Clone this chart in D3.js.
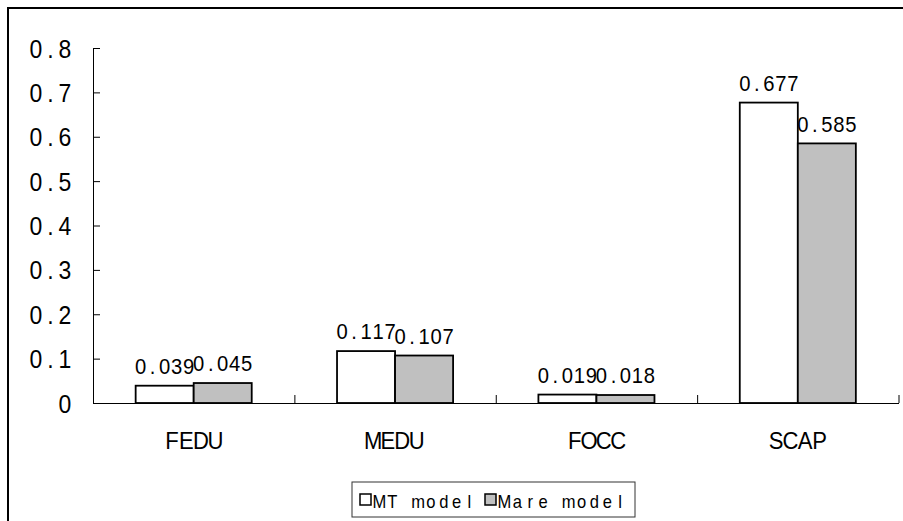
<!DOCTYPE html>
<html>
<head>
<meta charset="utf-8">
<script src="https://cdn.jsdelivr.net/npm/d3@7"></script>
<style>
  body { margin: 0; background: white; }
  text { font-family: "Liberation Sans", Arial, sans-serif; fill: #000; }
</style>
</head>
<body>
<div id="plot"></div>
<script>
// chart data
const categories = ["FEDU", "MEDU", "FOCC", "SCAP"];
const seriesNames = ["MT model", "Mare model"];
const mtValues = [0.039, 0.117, 0.019, 0.677];
const mareValues = [0.045, 0.107, 0.018, 0.585];
const yTickValues = [0, 0.1, 0.2, 0.3, 0.4, 0.5, 0.6, 0.7, 0.8];

const w = 903;
const h = 521;
const colors = ["#ffffff", "#c0c0c0"];
const sx = 0.92; // glyphs are a bit narrow in the original

const svg = d3.select("div#plot")
  .append("svg")
  .attr("width", w)
  .attr("height", h);

svg.append("rect")
  .attr("width", w).attr("height", h)
  .attr("fill", "white");

// outer frame (runs off the right/bottom edge)
svg.append("rect")
  .attr("x", 8).attr("y", 8)
  .attr("width", 1000).attr("height", 1000)
  .attr("fill", "none")
  .attr("stroke", "#000")
  .attr("stroke-width", 2);

const xScale = d3.scaleBand()
  .domain(categories)
  .range([93, 898.5])
  .padding(0);

const xSub = d3.scaleBand()
  .domain(seriesNames)
  .range([0, xScale.bandwidth()])
  .paddingInner(0)
  .paddingOuter(0.735);

const yScale = d3.scaleLinear()
  .domain([0, 0.8])
  .range([403, 48]);

const rows = categories.map((c, i) => ({cat: c, vals: [mtValues[i], mareValues[i]]}));

// fixed-pitch text: every glyph centred in its own cell
function spaced(sel, str, x, y, pitch, align) {
  sel.each(function (d, i) {
    const s = str(d, i);
    const n = s.length;
    let cells;
    if (align === "middle") cells = d3.range(n).map(k => (k - (n - 1) / 2) * pitch);
    else if (align === "end") cells = d3.range(n).map(k => -(n - 1 - k) * pitch);
    else cells = d3.range(n).map(k => k * pitch);
    d3.select(this)
      .text(s)
      .attr("text-anchor", "middle")
      .attr("x", cells.map(c => (c / sx).toFixed(2)).join(" "))
      .attr("y", 0)
      .attr("dy", null)
      .attr("transform", `translate(${x(d, i)},${y(d, i)}) scale(${sx},1)`);
  });
}

// y axis, ticks inside
const yFormat = d => d === 0 ? "0" : d.toFixed(1);
const yAxis = svg.append("g")
  .attr("transform", "translate(93,0)")
  .call(d3.axisLeft(yScale)
    .tickValues(yTickValues)
    .tickSizeInner(-7)
    .tickSizeOuter(0)
    .tickFormat(yFormat));
yAxis.select(".domain").attr("stroke", "#000");
yAxis.selectAll("line").attr("stroke", "#000");
yAxis.selectAll("text")
  .style("font-family", "Liberation Sans")
  .style("font-size", "25px")
  .call(spaced, yFormat, () => -28, () => 9, 14.5, "end");

// x axis, category boundary ticks pointing up
const bounds = d3.scaleLinear().domain([0, categories.length]).range(xScale.range());
const xAxis = svg.append("g")
  .attr("transform", "translate(0,403)")
  .call(d3.axisBottom(bounds)
    .ticks(categories.length)
    .tickSizeInner(-8)
    .tickSizeOuter(0)
    .tickFormat(""));
xAxis.select(".domain").attr("stroke", "#000");
xAxis.selectAll("line").attr("stroke", "#000");

svg.append("g").selectAll("text")
  .data(categories)
  .join("text")
  .style("font-size", "24px")
  .call(spaced, d => d, d => xScale(d) + xScale.bandwidth() / 2, () => 449, 14.5, "middle");

// value labels (drawn before bars, bars cover them as in the original)
const groups = svg.append("g").selectAll("g")
  .data(rows)
  .join("g")
  .attr("transform", d => `translate(${xScale(d.cat)},0)`);

groups.selectAll("text")
  .data(d => d.vals.map((v, j) => ({s: seriesNames[j], v: v})))
  .join("text")
  .style("font-size", "22px")
  .call(spaced, d => d.v.toFixed(3),
    d => xSub(d.s) + xSub.bandwidth() / 2, d => yScale(d.v) - 11.6, 12, "middle");

groups.selectAll("rect")
  .data(d => d.vals.map((v, j) => ({s: seriesNames[j], v: v, j: j})))
  .join("rect")
  .attr("x", d => xSub(d.s))
  .attr("y", d => yScale(d.v))
  .attr("width", xSub.bandwidth())
  .attr("height", d => yScale(0) - yScale(d.v))
  .attr("fill", d => colors[d.j])
  .attr("stroke", "#000")
  .attr("stroke-width", 1.8);

// legend
const legend = svg.append("g");
legend.append("rect")
  .attr("x", 352).attr("y", 482)
  .attr("width", 283).attr("height", 35)
  .attr("fill", "white")
  .attr("stroke", "#333")
  .attr("stroke-width", 1);

const legendX = [360, 485];
legend.selectAll("rect.key")
  .data(seriesNames)
  .join("rect")
  .attr("class", "key")
  .attr("x", (d, j) => legendX[j]).attr("y", 494)
  .attr("width", 11).attr("height", 11)
  .attr("fill", (d, j) => colors[j])
  .attr("stroke", "#000")
  .attr("stroke-width", 1.5);

legend.selectAll("text")
  .data(seriesNames)
  .join("text")
  .style("font-size", "18px")
  .call(spaced, d => d, (d, j) => legendX[j] + 19.5, () => 508, 12.85, "start");
</script>
</body>
</html>
